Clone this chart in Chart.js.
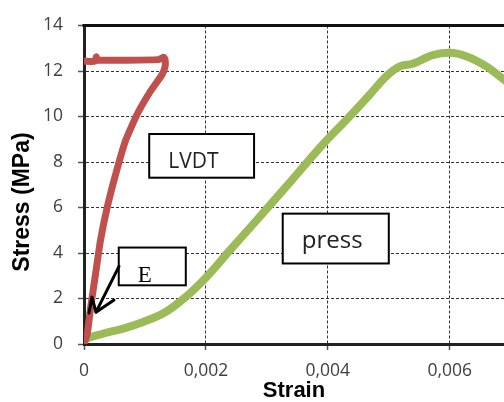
<!DOCTYPE html>
<html><head><meta charset="utf-8">
<script src="https://cdn.jsdelivr.net/npm/chart.js@4"></script>
<style>html,body{margin:0;padding:0;background:#fff;overflow:hidden}</style>
</head><body>
<canvas id="c" width="504" height="402"></canvas>
<script>
// ---- data ----
const lvdtStrain = [0, 0.000055, 0.00011, 0.00019, 0.00027, 0.00038, 0.00052, 0.00068, 0.00087, 0.00109, 0.00128, 0.00133, 0.00133, 0.00131, 0.00122, 0.00022, 0.0002, 0.00018, 0];
const lvdtStress = [0, 0.47, 1.63, 3.09, 4.55, 6.0, 7.47, 8.93, 10.09, 11.11, 11.84, 12.2, 12.5, 12.6, 12.5, 12.48, 12.62, 12.43, 12.43];
const pressStrain = [0, 0.00033, 0.00066, 0.00098, 0.00131, 0.00166, 0.00201, 0.00239, 0.00278, 0.00316, 0.00354, 0.00392, 0.00431, 0.00469, 0.00496, 0.00518, 0.00539, 0.00572, 0.0060, 0.00628, 0.0066, 0.00685, 0.0070];
const pressStress = [0.22, 0.47, 0.69, 0.98, 1.36, 2.05, 2.95, 4.11, 5.28, 6.44, 7.61, 8.78, 9.87, 10.97, 11.77, 12.2, 12.32, 12.7, 12.8, 12.64, 12.2, 11.7, 11.4];
const eStrain = [0.00002, 0.00003];
const eStress = [0.03, 0.5];
const xTickValues = [0, 0.002, 0.004, 0.006];
const yTickValues = [0, 2, 4, 6, 8, 10, 12, 14];
const xTitle = 'Strain';
const yTitle = 'Stress (MPa)';
// text boxes (data units)
const noteTexts = ['LVDT', 'press', 'E'];
const noteX0 = [0.00107, 0.00326, 0.00057];
const noteX1 = [0.00279, 0.0050, 0.00167];
const noteYTop = [9.23, 5.73, 4.24];
const noteYBot = [7.31, 3.54, 2.58];
// arrow from E box (data units)
const arrowX = [0.000082, 0.000131, 0.000197, 0.000574];
const arrowY = [1.36, 2.06, 1.40, 3.41];
const wingX = [0.000197, 0.000492];
const wingY = [1.40, 1.93];

const toPts = (xs, ys) => xs.map((x, i) => ({x, y: ys[i]}));

const decor = {
  id: 'decor',
  afterDatasetsDraw(chart) {
    const {ctx, chartArea: a, scales: {x, y}} = chart;
    ctx.save();
    // top frame line
    ctx.strokeStyle = '#111'; ctx.lineWidth = 3;
    ctx.beginPath(); ctx.moveTo(a.left - 1.5, a.top); ctx.lineTo(a.right, a.top); ctx.stroke();
    // notes
    const fonts = ['21px "Open Sans"', '24px "Open Sans"', '23px "Liberation Serif"'];
    noteTexts.forEach((t, i) => {
      const l = x.getPixelForValue(noteX0[i]), r = x.getPixelForValue(noteX1[i]);
      const tp = y.getPixelForValue(noteYTop[i]), b = y.getPixelForValue(noteYBot[i]);
      ctx.fillStyle = '#fff';
      ctx.fillRect(l, tp, r - l, b - tp);
      ctx.strokeStyle = '#000'; ctx.lineWidth = 2;
      ctx.strokeRect(l, tp, r - l, b - tp);
      ctx.fillStyle = i === 2 ? '#000' : '#222';
      ctx.font = fonts[i];
      ctx.textAlign = 'left'; ctx.textBaseline = 'alphabetic';
      ctx.fillText(t, l + 19, tp + 34);
    });
    // arrow
    ctx.strokeStyle = '#000'; ctx.lineWidth = 3; ctx.lineCap = 'round'; ctx.lineJoin = 'round';
    ctx.beginPath();
    arrowX.forEach((v, i) => {
      const px = x.getPixelForValue(v), py = y.getPixelForValue(arrowY[i]);
      i ? ctx.lineTo(px, py) : ctx.moveTo(px, py);
    });
    ctx.stroke();
    ctx.beginPath();
    ctx.moveTo(x.getPixelForValue(wingX[0]), y.getPixelForValue(wingY[0]));
    ctx.lineTo(x.getPixelForValue(wingX[1]), y.getPixelForValue(wingY[1]));
    ctx.stroke();
    ctx.restore();
  },
  afterDraw(chart) {
    const {ctx} = chart;
    ctx.save();
    ctx.fillStyle = '#000';
    ctx.font = 'bold 23px "Liberation Sans"';
    ctx.translate(23, 202);
    ctx.rotate(-Math.PI / 2);
    ctx.textAlign = 'center'; ctx.textBaseline = 'middle';
    ctx.fillText(yTitle, 0, 0);
    ctx.restore();
  }
};

const tickFont = {family: 'Open Sans', size: 17.5};
new Chart(document.getElementById('c'), {
  type: 'scatter',
  data: {
    datasets: [
      {label: 'LVDT', data: toPts(lvdtStrain, lvdtStress), showLine: true, borderColor: '#C0504D', borderWidth: 7, pointRadius: 0, tension: 0.15},
      {label: 'press', data: toPts(pressStrain, pressStress), showLine: true, borderColor: '#9BBB59', borderWidth: 8, pointRadius: 0, cubicInterpolationMode: 'monotone'},
      {label: 'E', data: toPts(eStrain, eStress), showLine: true, borderColor: '#000', borderWidth: 3, pointRadius: 0}
    ]
  },
  options: {
    responsive: false,
    animation: false,
    layout: {padding: {top: 24, right: 0, left: 0, bottom: 0}},
    plugins: {legend: {display: false}, tooltip: {enabled: false}},
    scales: {
      x: {
        type: 'linear', min: 0, max: 0.00689,
        afterBuildTicks: s => { s.ticks = xTickValues.map(v => ({value: v})); },
        afterFit: s => { s.height = 58; },
        ticks: {font: tickFont, color: '#404040', padding: 11, maxRotation: 0,
          callback: v => v === 0 ? '0' : v.toFixed(3).replace('.', ',')},
        grid: {color: '#333', lineWidth: 1, tickLength: 6, tickColor: '#555', tickWidth: 1.5, tickBorderDash: []},
        border: {display: true, color: '#222', width: 3, dash: [3, 2]},
        title: {display: true, text: xTitle, color: '#000', font: {family: 'Liberation Sans', size: 22, weight: 'bold', lineHeight: 1}, padding: {top: 0, bottom: 0}}
      },
      y: {
        type: 'linear', min: 0, max: 14,
        afterBuildTicks: s => { s.ticks = yTickValues.map(v => ({value: v})); },
        afterFit: s => { s.width = 84; },
        ticks: {font: tickFont, color: '#404040', padding: 15},
        grid: {color: '#333', lineWidth: 1, tickLength: 6, tickColor: '#555', tickWidth: 1.5, tickBorderDash: []},
        border: {display: true, color: '#222', width: 3, dash: [3, 2]}
      }
    }
  },
  plugins: [decor]
});
</script>
</body></html>
